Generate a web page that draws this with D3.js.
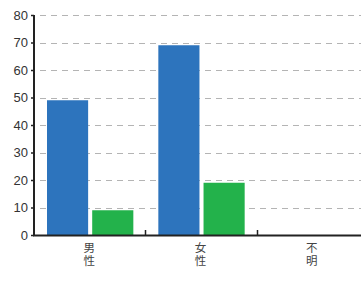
<!DOCTYPE html>
<html><head><meta charset="utf-8">
<script src="https://cdn.jsdelivr.net/npm/d3@7"></script>
<style>body{margin:0;background:#fff}svg{display:block}</style>
</head><body>
<svg id="c" width="361" height="304"></svg>
<script>
const categories = ["男性", "女性", "不明"];
const seriesA = [49, 69, 0];
const seriesB = [9, 19, 0];
const yTicks = [0, 10, 20, 30, 40, 50, 60, 70, 80];
const colors = ["#2d74bd", "#23b24b"];

const svg = d3.select("#c");
const x0 = 34, yBase = 235;
const x = d3.scaleBand().domain(categories).range([x0, 368]).paddingInner(0).paddingOuter(0);
const y = d3.scaleLinear().domain([0, 80]).range([yBase, 15]);

// grid
svg.append("g").selectAll("line").data(yTicks.filter(d => d > 0)).join("line")
  .attr("x1", 40).attr("x2", 361)
  .attr("y1", d => Math.round(y(d)) + 0.5).attr("y2", d => Math.round(y(d)) + 0.5)
  .attr("stroke", "#b4b4b4").attr("stroke-width", 1).attr("stroke-dasharray", "6,5");

// bars
const bw = x.bandwidth();
const inner = d3.scaleBand().domain([0, 1]).range([13, bw - 12]).paddingInner(0.09);
const data = categories.map((c, i) => ({ c, vals: [seriesA[i], seriesB[i]] }));
const g = svg.append("g");
data.forEach(d => {
  d.vals.forEach((v, j) => {
    if (v <= 0) return;
    g.append("rect")
      .attr("x", x(d.c) + inner(j)).attr("width", inner.bandwidth())
      .attr("y", y(v)).attr("height", yBase - y(v))
      .attr("fill", colors[j]);
  });
});

// y axis
const ya = svg.append("g").attr("transform", `translate(${x0},0)`)
  .call(d3.axisLeft(y).tickValues(yTicks).tickSize(3).tickPadding(3));
ya.select(".domain").attr("stroke", "#222").attr("stroke-width", 2).attr("d", `M0,${15}V${yBase}`);
ya.selectAll(".tick line").attr("stroke", "#222").attr("stroke-width", 1.5);
ya.selectAll(".tick text").attr("fill", "#333").attr("font-size", 13)
  .attr("font-family", "Liberation Sans, Arial, sans-serif");

// x axis
svg.append("line").attr("x1", x0 - 1).attr("x2", 361).attr("y1", yBase + 0.5).attr("y2", yBase + 0.5)
  .attr("stroke", "#222").attr("stroke-width", 2);
svg.append("g").selectAll("line").data(categories.slice(1)).join("line")
  .attr("x1", d => Math.round(x(d)) + 0.5).attr("x2", d => Math.round(x(d)) + 0.5)
  .attr("y1", yBase - 5).attr("y2", yBase)
  .attr("stroke", "#222").attr("stroke-width", 1.5);

// category labels (vertical writing)
svg.append("g").selectAll("text").data(categories).join("text")
  .attr("x", c => x(c) + bw / 2 - 0.5)
  .attr("y", 242)
  .attr("font-size", 11.5).attr("fill", "#444")
  .attr("font-family", "Noto Sans CJK JP, sans-serif")
  .style("writing-mode", "vertical-rl")
  .style("text-orientation", "upright")
  .style("letter-spacing", "1.5px")
  .text(c => c);
</script>
</body></html>
